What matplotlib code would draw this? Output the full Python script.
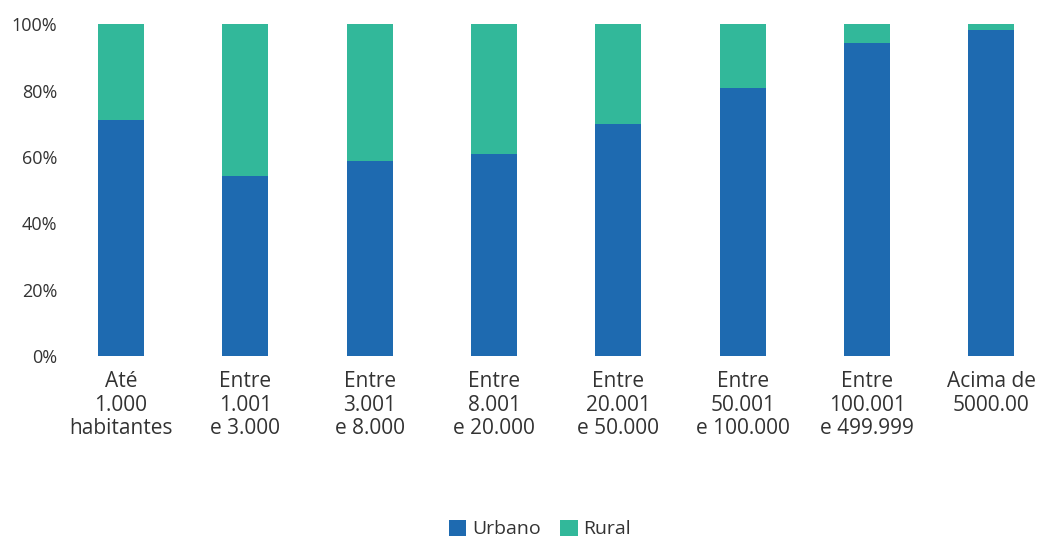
import matplotlib
matplotlib.use('Agg')
import matplotlib.pyplot as plt
import numpy as np

matplotlib.rcParams['font.family'] = ['Open Sans', 'DejaVu Sans']

categorias = ['Até\n1.000\nhabitantes', 'Entre\n1.001\ne 3.000', 'Entre\n3.001\ne 8.000',
              'Entre\n8.001\ne 20.000', 'Entre\n20.001\ne 50.000', 'Entre\n50.001\ne 100.000',
              'Entre\n100.001\ne 499.999', 'Acima de\n5000.00']
urbano = [71.1, 54.2, 58.7, 60.8, 69.9, 80.7, 94.3, 98.2]
rural = [100 - u for u in urbano]

cor_urbano = '#1e6ab0'
cor_rural = '#32b89a'
cor_texto = '#333333'

fig = plt.figure(figsize=(10.44, 5.37), dpi=100)
ax = fig.add_axes([70 / 1044, 0.337, 960 / 1044, 0.618])

x = np.arange(len(categorias))
ax.bar(x, urbano, width=0.37, color=cor_urbano, label='Urbano')
ax.bar(x, rural, width=0.37, bottom=urbano, color=cor_rural, label='Rural')

ax.set_xlim(-0.41, 7.31)
ax.set_ylim(0, 100)
ax.set_yticks([0, 20, 40, 60, 80, 100])
ax.set_yticklabels(['0%', '20%', '40%', '60%', '80%', '100%'], fontsize=13, color=cor_texto)
ax.set_xticks(x)
ax.set_xticklabels(categorias, fontsize=15, color=cor_texto, linespacing=1.15)
ax.tick_params(axis='both', length=0)
ax.tick_params(axis='y', pad=9)
ax.tick_params(axis='x', pad=11)
for s in ax.spines.values():
    s.set_visible(False)

fig.legend(loc='lower center', bbox_to_anchor=(0.517, -0.035), ncol=2, frameon=False,
           fontsize=14, handlelength=0.9, handleheight=0.9, handletextpad=0.3,
           columnspacing=1.0, labelcolor=cor_texto)

plt.savefig('out.png', dpi=100)
